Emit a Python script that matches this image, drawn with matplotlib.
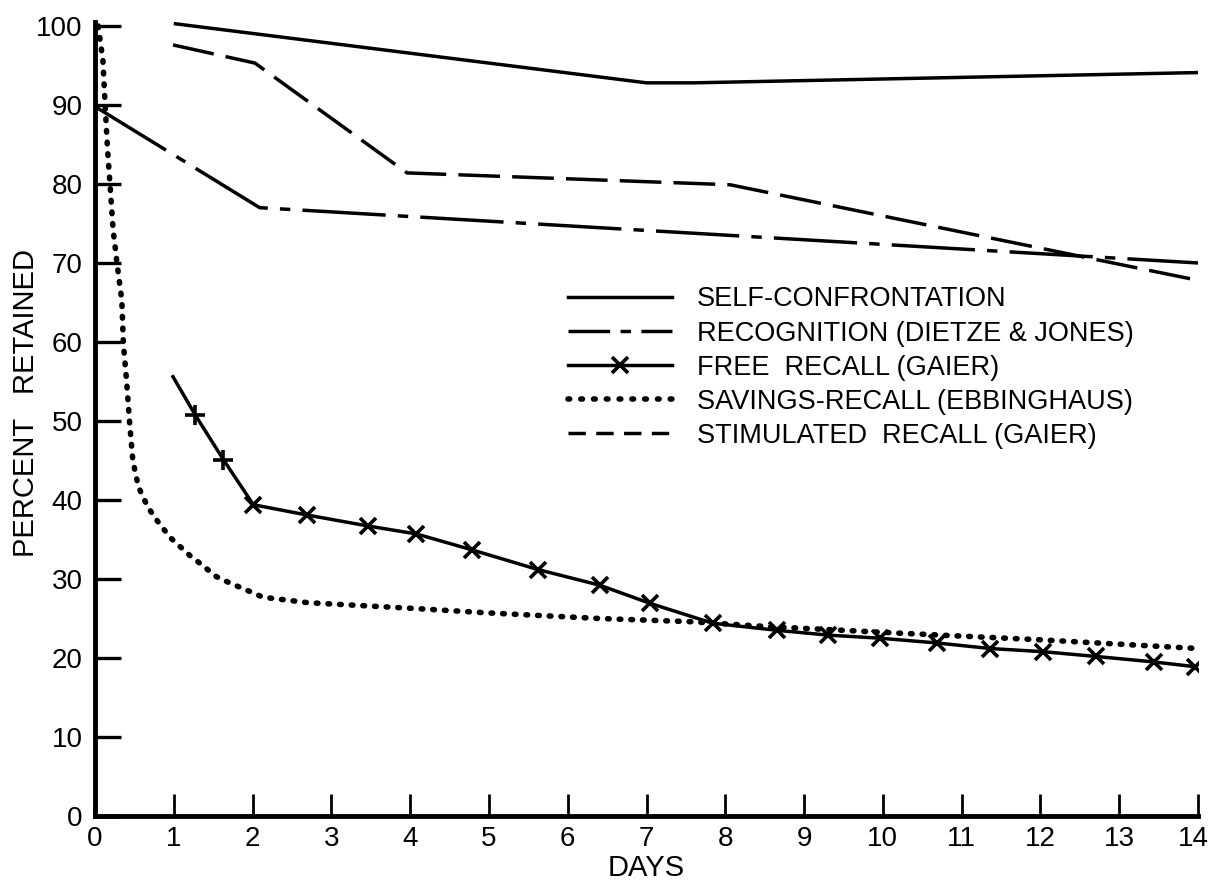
import matplotlib
matplotlib.use('Agg')
import matplotlib.pyplot as plt
import matplotlib.transforms as mtransforms
from matplotlib.lines import Line2D

FAM = ['Liberation Sans', 'DejaVu Sans']
plt.rcParams['font.family'] = FAM

# ---------------- data ----------------
day_ticks = list(range(0, 15))
pct_ticks = list(range(0, 101, 10))

self_x = [1, 7, 7.6, 14]
self_y = [100.3, 92.8, 92.8, 94.1]

recog_x = [0, 2.09, 14]
recog_y = [89.8, 77.0, 70.0]

stim_x = [0.99, 2.03, 3.96, 8.06, 14]
stim_y = [97.6, 95.3, 81.4, 79.9, 67.8]

free_x = [0.99, 1.27, 1.63, 2.01, 2.69, 3.47, 4.08, 4.78, 5.62, 6.41, 7.05,
          7.84, 8.66, 9.30, 9.97, 10.69, 11.36, 12.03, 12.70, 13.44, 13.96]
free_y = [55.6, 50.8, 45.1, 39.4, 38.1, 36.7, 35.7, 33.7, 31.2, 29.2, 26.9,
          24.4, 23.5, 22.9, 22.5, 21.9, 21.2, 20.8, 20.2, 19.5, 18.9]

sav_x = [0.04, 0.10, 0.13, 0.16, 0.19, 0.23, 0.28, 0.34, 0.36, 0.40, 0.44,
         0.48, 0.55, 0.67, 0.78, 0.95, 1.08, 1.20, 1.33, 1.54, 1.71, 1.97,
         2.13, 2.70, 4.0, 5.0, 6.4, 7.55, 8.5, 10.3, 12.0, 14.0]
sav_y = [100.0, 95.7, 89.7, 84.3, 80.0, 74.2, 69.9, 65.3, 59.8, 55.2, 49.7,
         45.0, 41.7, 39.1, 37.5, 35.3, 34.1, 33.0, 32.0, 30.3, 29.5, 28.4,
         27.7, 27.0, 26.3, 25.7, 25.0, 24.6, 24.0, 23.1, 22.3, 21.2]

labels = ['SELF-CONFRONTATION',
          'RECOGNITION (DIETZE & JONES)',
          'FREE  RECALL (GAIER)',
          'SAVINGS-RECALL (EBBINGHAUS)',
          'STIMULATED  RECALL (GAIER)']

# ---------------- figure ----------------
W, H = 1212, 884
fig = plt.figure(figsize=(W / 100, H / 100), dpi=100)
ax = fig.add_axes([95 / W, (H - 816) / H, (1198 - 95) / W, (816 - 22) / H])

LW = 2.5
ax.plot(self_x, self_y, color='black', lw=LW, solid_capstyle='butt')
ax.plot(recog_x, recog_y, color='black', lw=LW, dashes=(24, 3.5, 3, 3.5))
ax.plot(stim_x, stim_y, color='black', lw=LW, dashes=(12, 3.5))
ax.plot(sav_x, sav_y, color='black', lw=4, dashes=(0.3, 1.8),
        dash_capstyle='round')
ax.plot(free_x, free_y, color='black', lw=LW)
ax.plot(free_x[1:3], free_y[1:3], ls='none', marker='+', ms=14, mew=2.6,
        color='black')
ax.plot(free_x[3:], free_y[3:], ls='none', marker='x', ms=12, mew=2.6,
        color='black')

ax.set_xlim(0, 14)
ax.set_ylim(0, 100.5)

for s in ['top', 'right']:
    ax.spines[s].set_visible(False)
for s in ['left', 'bottom']:
    ax.spines[s].set_linewidth(3.5)

ax.set_xticks(day_ticks)
ax.set_xticklabels([str(d) for d in day_ticks])
ax.set_yticks(pct_ticks)
ax.set_yticklabels([str(p) for p in pct_ticks])
ax.tick_params(axis='x', direction='in', length=16, width=2.0, pad=7,
               labelsize=20)
ax.tick_params(axis='y', direction='in', length=19, width=2.4, pad=9,
               labelsize=20)

# nudge last x label so it stays inside the canvas
last = ax.get_xticklabels()[-1]
last.set_transform(last.get_transform() +
                   mtransforms.ScaledTranslation(-5 / 100, 0, fig.dpi_scale_trans))

ax.set_xlabel('DAYS', fontsize=21, labelpad=2)
ax.set_ylabel('PERCENT   RETAINED', fontsize=21, va='center')
ax.yaxis.set_label_coords(-0.0626, 0.52)

handles = [
    Line2D([], [], color='black', lw=LW),
    Line2D([], [], color='black', lw=LW, dashes=(12, 3, 3, 3)),
    Line2D([], [], color='black', lw=LW, marker='x', ms=12, mew=2.6),
    Line2D([], [], color='black', lw=4, dashes=(0.3, 2.0), dash_capstyle='round'),
    Line2D([], [], color='black', lw=LW, dashes=(5, 3)),
]
leg = ax.legend(handles, labels, loc='upper left',
                bbox_to_anchor=(0.4288, 0.667), frameon=False,
                fontsize=19.5, handlelength=3.85, handletextpad=0.92,
                labelspacing=0.3, borderpad=0, borderaxespad=0,
                numpoints=1)

fig.savefig('out.png', dpi=100)
